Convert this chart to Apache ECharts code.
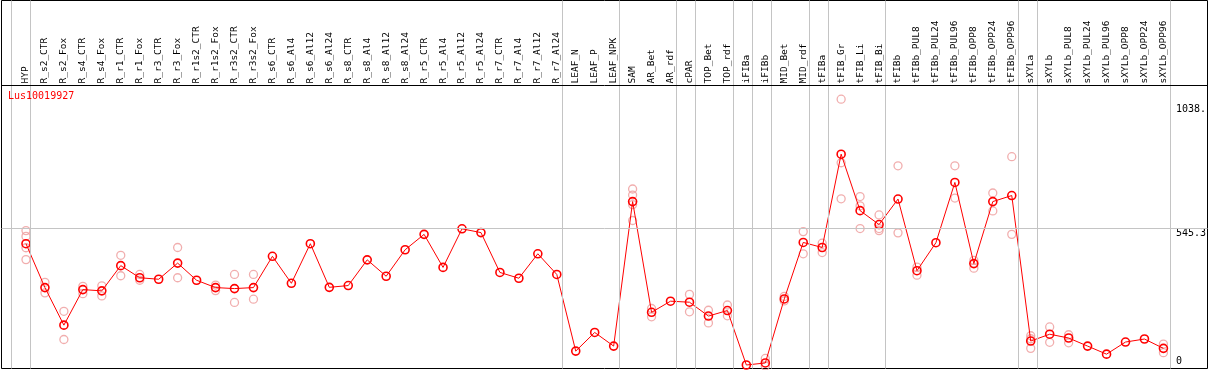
<!DOCTYPE html>
<html>
<head>
<meta charset="utf-8">
<script src="https://cdn.jsdelivr.net/npm/echarts@6/dist/echarts.min.js"></script>
<style>
  html, body { margin: 0; padding: 0; background: #fff; }
  #chart { width: 1209px; height: 370px; }
</style>
</head>
<body>
<div id="chart"></div>
<script>
var categories = ['HYP', 'R_s2_CTR', 'R_s2_Fox', 'R_s4_CTR', 'R_s4_Fox', 'R_r1_CTR', 'R_r1_Fox',
    'R_r3_CTR', 'R_r3_Fox', 'R_r1s2_CTR', 'R_r1s2_Fox', 'R_r3s2_CTR', 'R_r3s2_Fox',
    'R_s6_CTR', 'R_s6_Al4', 'R_s6_Al12', 'R_s6_Al24', 'R_s8_CTR', 'R_s8_Al4', 'R_s8_Al12', 'R_s8_Al24',
    'R_r5_CTR', 'R_r5_Al4', 'R_r5_Al12', 'R_r5_Al24', 'R_r7_CTR', 'R_r7_Al4', 'R_r7_Al12', 'R_r7_Al24',
    'LEAF_N', 'LEAF_P', 'LEAF_NPK', 'SAM', 'AR_Bet', 'AR_rdf', 'cPAR', 'TOP_Bet', 'TOP_rdf',
    'iFIBa', 'iFIBb', 'MID_Bet', 'MID_rdf', 'tFIBa', 'tFIB_Gr', 'tFIB_Li', 'tFIB_Bi',
    'tFIBb', 'tFIBb_PUL8', 'tFIBb_PUL24', 'tFIBb_PUL96', 'tFIBb_OPP8', 'tFIBb_OPP24', 'tFIBb_OPP96',
    'sXYLa', 'sXYLb', 'sXYLb_PUL8', 'sXYLb_PUL24', 'sXYLb_PUL96', 'sXYLb_OPP8', 'sXYLb_OPP24', 'sXYLb_OPP96'];

// mean expression per sample
var means = [485, 311, 162, 303, 298, 398, 350, 344, 408, 340, 311, 307, 311,
    435, 328, 485, 312, 319, 421, 356, 461, 522, 391, 544, 529, 371, 348, 445, 363,
    59, 133, 79, 652, 213, 257, 253, 198, 220, 4, 12, 266, 490, 470, 840, 616, 561,
    662, 378, 489, 728, 406, 652, 676, 99, 126, 111, 79, 47, 95, 107, 70];

// individual replicates per sample
var replicates = [
    [537, 514, 469, 422], [332, 290], [217, 105], [316, 287], [318, 278], [439, 358], [363, 340],
    [], [470, 350], [], [321, 299], [363, 252], [363, 265],
    [], [], [], [], [], [], [], [],
    [], [], [], [], [], [], [], [],
    [], [], [], [702, 678, 640, 577], [228, 195], [], [284, 215], [221, 171], [242, 199],
    [], [30, 0], [276, 258], [533, 445], [487, 450], [1058, 806, 663], [672, 635, 545], [599, 545, 537],
    [794, 528], [392, 360], [], [794, 666], [419, 388], [686, 615], [830, 522],
    [120, 108, 70], [155, 94], [124, 92], [], [], [], [], [87, 53]];

var yTicks = [0, 545.3, 1038];
var yTickLabels = ['0', '545.3', '1038.'];

// samples after which a group separator is drawn
var groupEnds = [-1, 0, 28, 31, 34, 35, 37, 38, 39, 41, 42, 45, 52, 53, 60];

var title = 'Lus10019927';

// pixel layout
var colStart = 26, colStep = 19;
var frameL = 1.5, frameT = 0.5, frameW = 1206, frameH = 368;
var headerH = 85;
var zeroY = 366, pxPerUnit = 0.25216;
var sepShift = 4.5 / colStep;

var xMin = -(colStart - frameL) / colStep;
var xMax = xMin + frameW / colStep;
var yMin = -(frameT + frameH - zeroY) / pxPerUnit;
var yMax = yMin + frameH / pxPerUnit;
var headerVal = (zeroY - (frameT + headerH)) / pxPerUnit;

var font = 'DejaVu Sans Mono';

var repData = [];
replicates.forEach(function (list, i) {
    list.forEach(function (v) { repData.push([i, v]); });
});

var markData = groupEnds.map(function (k) { return {xAxis: k + sepShift}; });
markData.push({yAxis: yTicks[1]});
markData.push({yAxis: headerVal, lineStyle: {color: '#000'}});

function tickLabel(v) {
    var best = 0;
    for (var i = 0; i < yTicks.length; i++) {
        if (Math.abs(yTicks[i] - v) < Math.abs(yTicks[best] - v)) best = i;
    }
    return yTickLabels[best];
}

var option = {
    animation: false,
    backgroundColor: '#fff',
    title: {
        text: title,
        left: 8,
        top: 91,
        padding: 0,
        textStyle: {color: '#f00', fontFamily: font, fontSize: 10, fontWeight: 'normal'}
    },
    grid: [
        // outer frame
        {left: frameL, top: frameT, width: frameW, height: frameH,
            show: true, borderColor: '#000', borderWidth: 1, backgroundColor: 'transparent'},
        // data area
        {left: colStart - colStep / 2, width: colStep * categories.length,
            top: frameT + headerH, height: frameH - headerH}
    ],
    xAxis: [
        {type: 'value', gridIndex: 0, min: xMin, max: xMax, show: false},
        {
            type: 'category', gridIndex: 1, data: categories, position: 'top',
            boundaryGap: true,
            axisLine: {show: false}, axisTick: {show: false}, splitLine: {show: false},
            axisLabel: {interval: 0, rotate: 90, margin: 2, color: '#000',
                fontFamily: font, fontSize: 9.5}
        }
    ],
    yAxis: [
        {type: 'value', gridIndex: 0, min: yMin, max: yMax, show: false},
        {
            type: 'value', gridIndex: 1, min: yMin, max: headerVal, position: 'right',
            axisLine: {show: false}, axisTick: {show: false}, splitLine: {show: false},
            axisLabel: {customValues: yTicks.slice(1), formatter: tickLabel, margin: 3,
                verticalAlign: 'top', color: '#000', fontFamily: font, fontSize: 10}
        },
        {
            type: 'value', gridIndex: 1, min: yMin, max: headerVal, position: 'right',
            axisLine: {show: false}, axisTick: {show: false}, splitLine: {show: false},
            axisLabel: {customValues: yTicks.slice(0, 1), formatter: tickLabel, margin: 3,
                verticalAlign: 'bottom', color: '#000', fontFamily: font, fontSize: 10}
        }
    ],
    series: [
        {
            type: 'line', xAxisIndex: 0, yAxisIndex: 0, data: [], silent: true,
            markLine: {
                silent: true, symbol: ['none', 'none'], label: {show: false},
                lineStyle: {color: '#c4c4c4', type: 'solid', width: 1},
                emphasis: {disabled: true},
                data: markData
            }
        },
        {
            type: 'scatter', xAxisIndex: 1, yAxisIndex: 1, data: repData, z: 3,
            symbol: 'circle', symbolSize: 8, silent: true,
            itemStyle: {color: 'rgba(0,0,0,0)', borderColor: '#ee9a9a', borderWidth: 1.3}
        },
        {
            type: 'line', xAxisIndex: 1, yAxisIndex: 1, data: means, z: 4,
            symbol: 'circle', symbolSize: 8, showAllSymbol: true, silent: true,
            lineStyle: {color: '#f00', width: 1},
            itemStyle: {color: 'rgba(0,0,0,0)', borderColor: '#f00', borderWidth: 1.6}
        }
    ]
};

var chart = echarts.init(document.getElementById('chart'));
chart.setOption(option);
</script>
</body>
</html>
